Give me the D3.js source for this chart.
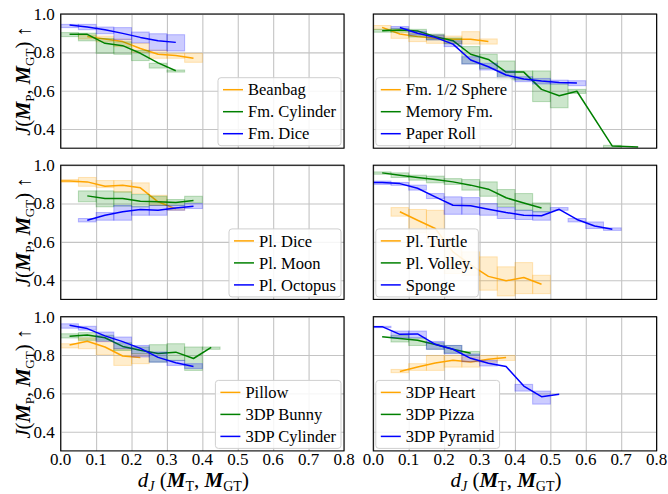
<!DOCTYPE html>
<html>
<head>
<meta charset="utf-8">
<script src="https://cdn.jsdelivr.net/npm/d3@7"></script>
<style>
  body { margin: 0; background: #fff; }
</style>
</head>
<body>
<div id="chart"></div>
<script>
// rows: [d_J (line x), J mean, band low, band high]; band spans the 0.05 bin around x
const beanbag = [[0.075, 0.882, 0.87, 0.89], [0.125, 0.870, 0.855, 0.885], [0.175, 0.856, 0.83, 0.87],
    [0.225, 0.820, 0.80, 0.847], [0.275, 0.790, 0.769, 0.812], [0.325, 0.783, 0.769, 0.795], [0.375, 0.769, 0.748, 0.795]];
const fmCylinder = [[0.025, 0.894, 0.882, 0.903], [0.075, 0.894, 0.86, 0.90], [0.125, 0.847, 0.795, 0.873],
    [0.175, 0.835, 0.79, 0.855], [0.225, 0.795, 0.757, 0.81], [0.275, 0.745, 0.718, 0.743], [0.325, 0.704, 0.697, 0.708]];
const fmDice = [[0.025, 0.943, 0.929, 0.946], [0.075, 0.932, 0.918, 0.946], [0.125, 0.918, 0.897, 0.932],
    [0.175, 0.899, 0.866, 0.929], [0.225, 0.878, 0.849, 0.906], [0.275, 0.861, 0.81, 0.897], [0.325, 0.852, 0.807, 0.892]];

const fmHalfSphere = [[0.025, 0.930, 0.92, 0.94], [0.075, 0.896, 0.873, 0.92], [0.125, 0.882, 0.856, 0.90],
    [0.175, 0.873, 0.847, 0.89], [0.225, 0.868, 0.847, 0.885], [0.275, 0.868, 0.843, 0.908], [0.325, 0.856, 0.843, 0.87]];
const memoryFm = [[0.025, 0.913, 0.905, 0.92], [0.075, 0.917, 0.905, 0.925], [0.125, 0.911, 0.88, 0.92],
    [0.175, 0.882, 0.865, 0.895], [0.225, 0.861, 0.845, 0.875], [0.275, 0.790, 0.74, 0.83], [0.325, 0.763, 0.716, 0.79],
    [0.375, 0.697, 0.656, 0.755], [0.425, 0.697, 0.656, 0.703], [0.475, 0.607, 0.543, 0.703], [0.525, 0.574, 0.511, 0.635],
    [0.575, 0.597, 0.586, 0.607], [0.675, 0.311, 0.30, 0.315], [0.748, 0.306, null, null]];
const paperRoll = [[0.075, 0.930, 0.925, 0.935], [0.125, 0.900, 0.89, 0.91], [0.175, 0.878, 0.865, 0.89],
    [0.225, 0.843, 0.83, 0.86], [0.275, 0.760, 0.739, 0.777], [0.325, 0.725, 0.708, 0.743], [0.375, 0.682, 0.664, 0.704],
    [0.425, 0.661, 0.647, 0.673], [0.475, 0.650, 0.635, 0.664], [0.525, 0.643, 0.635, 0.655], [0.575, 0.640, 0.626, 0.652]];

const plDice = [[0.0, 0.918, null, null], [0.025, 0.917, 0.911, 0.925], [0.075, 0.913, 0.89, 0.936],
    [0.125, 0.890, 0.883, 0.92], [0.175, 0.896, 0.86, 0.92], [0.225, 0.882, 0.852, 0.908],
    [0.275, 0.809, 0.79, 0.843], [0.325, 0.772, 0.765, 0.78]];
const plMoon = [[0.075, 0.840, 0.809, 0.866], [0.125, 0.826, 0.783, 0.866], [0.175, 0.826, 0.786, 0.861],
    [0.225, 0.812, 0.783, 0.847], [0.275, 0.809, 0.79, 0.838], [0.325, 0.805, 0.79, 0.821], [0.375, 0.816, 0.803, 0.838]];
const plOctopus = [[0.075, 0.713, 0.704, 0.722], [0.125, 0.739, 0.713, 0.753], [0.175, 0.757, 0.713, 0.79],
    [0.225, 0.769, 0.739, 0.783], [0.275, 0.765, 0.739, 0.79], [0.325, 0.777, 0.765, 0.79], [0.375, 0.786, 0.774, 0.80]];

const plTurtle = [[0.075, 0.757, 0.734, 0.779], [0.125, 0.713, 0.647, 0.769], [0.175, 0.670, 0.574, 0.765],
    [0.225, 0.548, 0.435, 0.60], [0.275, 0.480, 0.426, 0.548], [0.325, 0.420, 0.348, 0.522],
    [0.375, 0.397, 0.318, 0.47], [0.425, 0.414, 0.33, 0.492], [0.475, 0.379, 0.33, 0.426]];
const plVolley = [[0.025, 0.960, 0.953, 0.965], [0.075, 0.948, 0.936, 0.96], [0.125, 0.936, 0.922, 0.948],
    [0.175, 0.925, 0.908, 0.943], [0.225, 0.913, 0.90, 0.93], [0.275, 0.896, 0.87, 0.925], [0.325, 0.875, 0.838, 0.913],
    [0.375, 0.830, 0.783, 0.873], [0.425, 0.803, 0.765, 0.852], [0.475, 0.777, 0.757, 0.803]];
const sponge = [[0.0, 0.910, null, null], [0.025, 0.910, 0.90, 0.917], [0.075, 0.904, 0.895, 0.91],
    [0.125, 0.880, 0.87, 0.896], [0.175, 0.835, 0.826, 0.852], [0.225, 0.791, 0.744, 0.835], [0.275, 0.788, 0.744, 0.831],
    [0.325, 0.770, 0.739, 0.80], [0.375, 0.753, 0.722, 0.779], [0.425, 0.739, 0.717, 0.765], [0.475, 0.736, 0.713, 0.757],
    [0.525, 0.770, 0.765, 0.779], [0.575, 0.717, 0.704, 0.722], [0.625, 0.683, 0.67, 0.704], [0.675, 0.666, 0.66, 0.673]];

const pillow = [[0.025, 0.852, 0.837, 0.859], [0.075, 0.872, 0.833, 0.889], [0.125, 0.842, 0.802, 0.871],
    [0.175, 0.795, 0.746, 0.833], [0.225, 0.787, 0.755, 0.807]];
const bunny3dp = [[0.025, 0.898, 0.889, 0.911], [0.075, 0.905, 0.877, 0.917], [0.125, 0.890, 0.877, 0.903],
    [0.175, 0.845, 0.824, 0.864], [0.225, 0.825, 0.807, 0.842], [0.275, 0.808, 0.763, 0.854],
    [0.325, 0.815, 0.772, 0.859], [0.375, 0.782, 0.72, 0.842], [0.425, 0.840, 0.83, 0.842]];
const cylinder3dp = [[0.025, 0.955, 0.94, 0.963], [0.075, 0.938, 0.93, 0.95], [0.125, 0.900, 0.87, 0.92],
    [0.175, 0.870, 0.833, 0.894], [0.225, 0.835, 0.79, 0.85], [0.275, 0.788, 0.763, 0.816],
    [0.325, 0.760, 0.746, 0.772], [0.375, 0.740, 0.73, 0.755]];

const heart3dp = [[0.075, 0.714, 0.708, 0.725], [0.125, 0.738, 0.72, 0.755], [0.175, 0.758, 0.72, 0.798],
    [0.225, 0.773, 0.737, 0.798], [0.275, 0.764, 0.737, 0.79], [0.325, 0.778, 0.763, 0.798], [0.375, 0.787, 0.772, 0.798]];
const pizza3dp = [[0.025, 0.896, null, null], [0.075, 0.886, 0.868, 0.903], [0.125, 0.877, 0.85, 0.889],
    [0.175, 0.855, 0.83, 0.864], [0.225, 0.830, 0.81, 0.85], [0.275, 0.809, 0.798, 0.819]];
const pyramid3dp = [[0.0, 0.948, null, null], [0.025, 0.948, 0.943, 0.95], [0.075, 0.908, 0.89, 0.925],
    [0.125, 0.910, 0.89, 0.925], [0.175, 0.856, 0.83, 0.871], [0.225, 0.830, 0.807, 0.85],
    [0.275, 0.783, 0.765, 0.805], [0.325, 0.757, 0.743, 0.772], [0.375, 0.740, null, null],
    [0.425, 0.638, 0.612, 0.647], [0.475, 0.583, 0.544, 0.612], [0.525, 0.595, null, null]];

const xTicks = [0.0, 0.1, 0.2, 0.3, 0.4, 0.5, 0.6, 0.7, 0.8];
const yTicks = [0.4, 0.6, 0.8, 1.0];
const colors = ["orange", "green", "blue"];

const panels = [
    { names: ["Beanbag", "Fm. Cylinder", "Fm. Dice"], series: [beanbag, fmCylinder, fmDice], legend: "right" },
    { names: ["Fm. 1/2 Sphere", "Memory Fm.", "Paper Roll"], series: [fmHalfSphere, memoryFm, paperRoll], legend: "left" },
    { names: ["Pl. Dice", "Pl. Moon", "Pl. Octopus"], series: [plDice, plMoon, plOctopus], legend: "right" },
    { names: ["Pl. Turtle", "Pl. Volley.", "Sponge"], series: [plTurtle, plVolley, sponge], legend: "left" },
    { names: ["Pillow", "3DP Bunny", "3DP Cylinder"], series: [pillow, bunny3dp, cylinder3dp], legend: "right" },
    { names: ["3DP Heart", "3DP Pizza", "3DP Pyramid"], series: [heart3dp, pizza3dp, pyramid3dp], legend: "left" },
];

var W = 668, H = 494;
var colLeft = [60.7, 373.3], pw = 283.3;
var rowTop = [14, 165.2, 316.7], ph = 134.2;
var binHalf = 0.025;
var FONT = "'Liberation Serif', 'DejaVu Serif', serif";

var svg = d3.select("#chart").append("svg")
    .attr("width", W).attr("height", H)
    .style("font-family", FONT)
    .style("background", "#fff");

// y label: J(M_P, M_GT) ↑
function yLabel(g, cx, cy) {
    const t = g.append("text")
        .attr("transform", `translate(${cx},${cy}) rotate(-90)`)
        .attr("text-anchor", "middle")
        .attr("dy", "0.35em")
        .style("font-size", "20.5px");
    t.append("tspan").style("font-style", "italic").text("J");
    t.append("tspan").text("(");
    t.append("tspan").style("font-style", "italic").style("font-weight", "bold").text("M");
    t.append("tspan").attr("dy", 4).style("font-size", "13px").text("P");
    t.append("tspan").attr("dy", -4).text(", ");
    t.append("tspan").style("font-style", "italic").style("font-weight", "bold").text("M");
    t.append("tspan").attr("dy", 4).style("font-size", "13px").text("GT");
    t.append("tspan").attr("dy", -4).text(") ↑");
}

// x label: d_J(M_T, M_GT)
function xLabel(g, cx, y) {
    const t = g.append("text")
        .attr("x", cx).attr("y", y)
        .attr("text-anchor", "middle")
        .style("font-size", "21px");
    t.append("tspan").style("font-style", "italic").text("d");
    t.append("tspan").attr("dy", 4).style("font-size", "14px").style("font-style", "italic").text("J");
    t.append("tspan").attr("dy", -4).text(" (");
    t.append("tspan").style("font-style", "italic").style("font-weight", "bold").text("M");
    t.append("tspan").attr("dy", 4).style("font-size", "14px").text("T");
    t.append("tspan").attr("dy", -4).text(", ");
    t.append("tspan").style("font-style", "italic").style("font-weight", "bold").text("M");
    t.append("tspan").attr("dy", 4).style("font-size", "14px").text("GT");
    t.append("tspan").attr("dy", -4).text(")");
}

panels.forEach((p, i) => {
    const col = i % 2, row = Math.floor(i / 2);
    const left = colLeft[col], top = rowTop[row];

    const x = d3.scaleLinear().domain([0, 0.8]).range([left, left + pw]);
    const y = d3.scaleLinear().domain([0.3, 1.0]).range([top + ph, top]);

    const g = svg.append("g");

    // grid
    g.append("g")
        .attr("transform", `translate(0,${top + ph})`)
        .call(d3.axisBottom(x).tickValues(xTicks).tickSize(-ph).tickFormat(""))
        .call(a => a.select(".domain").remove())
        .call(a => a.selectAll("line").attr("stroke", "#c4c4c4").attr("stroke-width", 1.1));
    g.append("g")
        .attr("transform", `translate(${left},0)`)
        .call(d3.axisLeft(y).tickValues(yTicks).tickSize(-pw).tickFormat(""))
        .call(a => a.select(".domain").remove())
        .call(a => a.selectAll("line").attr("stroke", "#c4c4c4").attr("stroke-width", 1.1));

    const clipId = "clip" + i;
    svg.append("clipPath").attr("id", clipId)
        .append("rect").attr("x", left).attr("y", top).attr("width", pw).attr("height", ph);

    const plot = g.append("g").attr("clip-path", `url(#${clipId})`);

    const line = d3.line().x(d => x(d[0])).y(d => y(d[1]));

    p.series.forEach((s, k) => {
        plot.append("g").selectAll("rect")
            .data(s.filter(d => d[2] != null))
            .join("rect")
            .attr("x", d => x(d[0] - binHalf))
            .attr("width", d => x(d[0] + binHalf) - x(d[0] - binHalf))
            .attr("y", d => y(d[3]))
            .attr("height", d => y(d[2]) - y(d[3]))
            .attr("fill", colors[k]).attr("fill-opacity", 0.2)
            .attr("stroke", colors[k]).attr("stroke-opacity", 0.25).attr("stroke-width", 1);
        plot.append("path")
            .datum(s)
            .attr("d", line)
            .attr("fill", "none")
            .attr("stroke", colors[k])
            .attr("stroke-width", 1.5)
            .attr("stroke-linejoin", "round");
    });

    // frame
    g.append("rect")
        .attr("x", left).attr("y", top).attr("width", pw).attr("height", ph)
        .attr("fill", "none").attr("stroke", "#000").attr("stroke-width", 1.1);

    // tick labels
    if (col == 0) {
        g.selectAll(".ytl").data(yTicks).join("text")
            .attr("x", left - 6).attr("y", d => y(d))
            .attr("dy", "0.35em").attr("text-anchor", "end")
            .style("font-size", "17px")
            .text(d => d.toFixed(1));
        yLabel(g, 23, top + ph / 2);
    }
    if (row == 2) {
        g.selectAll(".xtl").data(xTicks).join("text")
            .attr("x", d => x(d)).attr("y", top + ph + 14.5)
            .attr("text-anchor", "middle")
            .style("font-size", "17px")
            .text(d => d.toFixed(1));
        xLabel(g, left + pw / 2 - 9, 487);
    }

    // legend
    const lg = g.append("g");
    const box = lg.append("rect")
        .attr("rx", 3).attr("ry", 3)
        .attr("fill", "#fff").attr("fill-opacity", 0.85)
        .attr("stroke", "#cfcfcf").attr("stroke-width", 1);
    let maxW = 0;
    p.names.forEach((n, k) => {
        lg.append("line")
            .attr("x1", 5).attr("x2", 25)
            .attr("y1", 12 + k * 22).attr("y2", 12 + k * 22)
            .attr("stroke", colors[k]).attr("stroke-width", 1.5);
        const t = lg.append("text")
            .attr("x", 30).attr("y", 12 + k * 22)
            .attr("dy", "0.35em")
            .style("font-size", "16.5px")
            .text(n);
        maxW = Math.max(maxW, t.node().getComputedTextLength());
    });
    const bw = 30 + maxW + 5, bh = 68;
    box.attr("width", bw).attr("height", bh);
    const bx = p.legend == "right" ? left + pw - 3 - bw : left + 2.5;
    const by = top + ph - 2.5 - bh;
    lg.attr("transform", `translate(${bx},${by})`);
});
</script>
</body>
</html>
